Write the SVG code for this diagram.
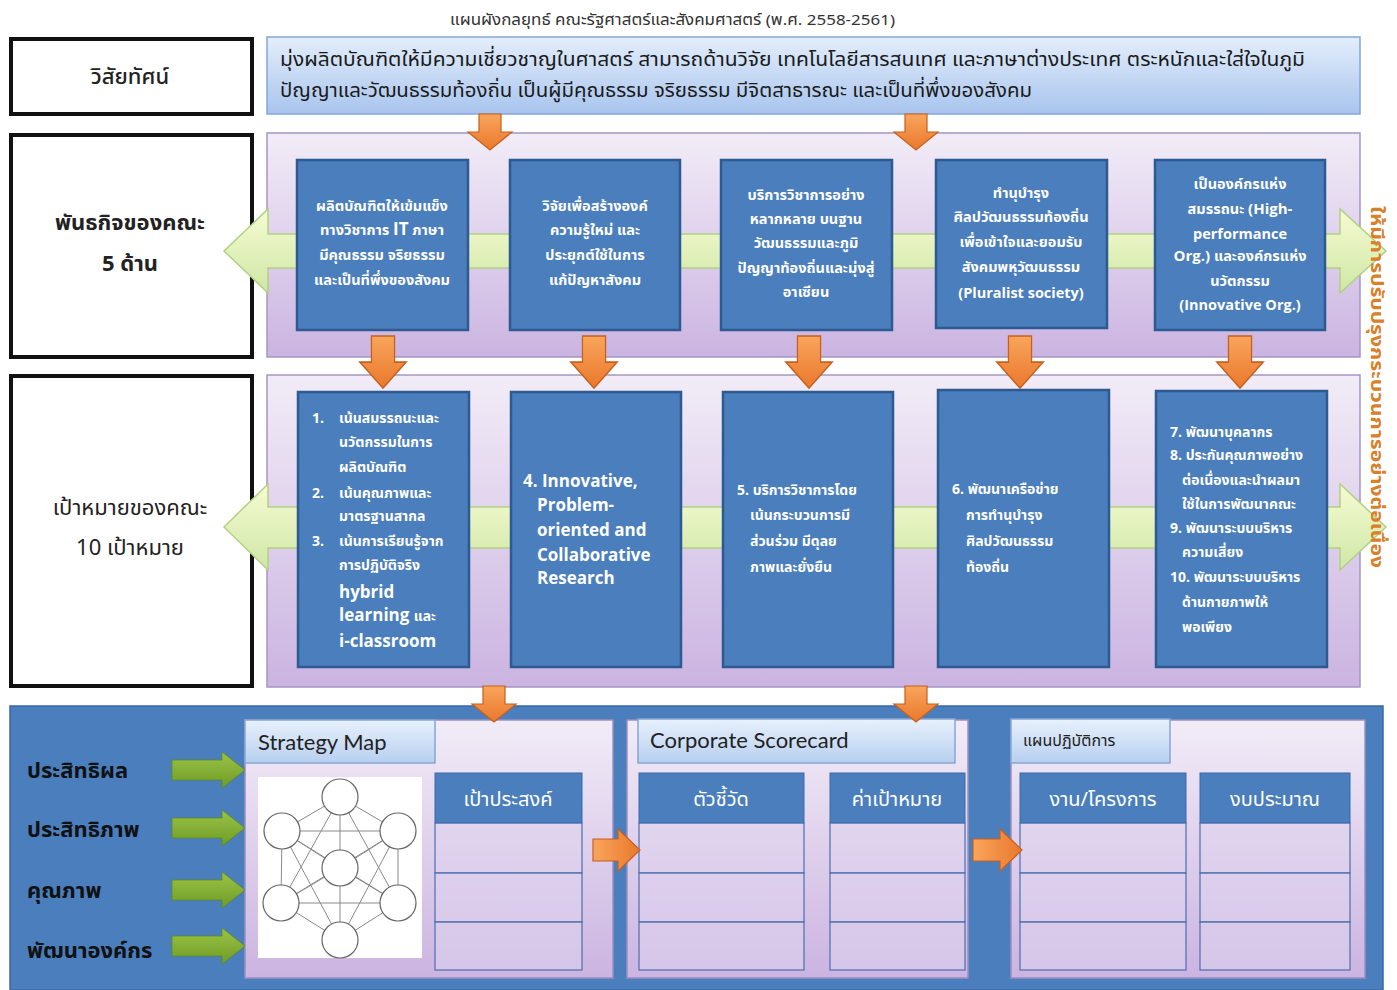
<svg xmlns="http://www.w3.org/2000/svg" width="1397" height="990" viewBox="0 0 1397 990">
<defs>
<linearGradient id="gVision" x1="0" y1="0" x2="0" y2="1"><stop offset="0" stop-color="#e4eefb"/><stop offset="1" stop-color="#a8c4ee"/></linearGradient>
<linearGradient id="gPurple" x1="0" y1="0" x2="0" y2="1"><stop offset="0" stop-color="#f2ecf7"/><stop offset="1" stop-color="#cbb4e1"/></linearGradient>
<linearGradient id="gGreen" x1="0" y1="0" x2="0" y2="1"><stop offset="0" stop-color="#f6fbd2"/><stop offset="1" stop-color="#cfe7a6"/></linearGradient>
<linearGradient id="gOrange" x1="0" y1="0" x2="0" y2="1"><stop offset="0" stop-color="#f9a55c"/><stop offset="1" stop-color="#e9782c"/></linearGradient>
<linearGradient id="gOrangeH" x1="0" y1="0" x2="1" y2="0"><stop offset="0" stop-color="#f9a55c"/><stop offset="1" stop-color="#e9782c"/></linearGradient>
<linearGradient id="gTab" x1="0" y1="0" x2="0" y2="1"><stop offset="0" stop-color="#e8f1fc"/><stop offset="1" stop-color="#b7cff0"/></linearGradient>
<linearGradient id="gArrowG" x1="0" y1="0" x2="0" y2="1"><stop offset="0" stop-color="#9cc348"/><stop offset="1" stop-color="#6e9c24"/></linearGradient>
<path id="darr" d="M-11,0 H11 V18 H22 L0,36 L-22,18 H-11 Z"/>
<path id="garr" d="M0,-10 H50 V-18 L73,0 L50,18 V10 H0 Z"/>
</defs>
<style>
.th{font-family:"Noto Sans Thai","Noto Sans","DejaVu Sans","Liberation Sans",sans-serif}
.en{font-family:"Open Sans","Liberation Sans",sans-serif}
.lab{fill:#fff;stroke:#111;stroke-width:4}
.labt{font-size:22px;fill:#222;text-anchor:middle}
.panel{fill:url(#gPurple);stroke:#a596c2;stroke-width:1.5}
.bbox{fill:#4a7ebd;stroke:#2c5a91;stroke-width:2.5}
.mt{font-size:14.5px;fill:#fff;text-anchor:middle;font-weight:bold}
.gt{font-size:14px;fill:#fff;font-weight:bold}
.ge{font-size:17px;fill:#fff;font-weight:bold}
.oarr{fill:url(#gOrange);stroke:#c6601c;stroke-width:1.2}
.oarrh{fill:url(#gOrangeH);stroke:#c6601c;stroke-width:1.2}
.garrow{fill:url(#gGreen);stroke:#b2d184;stroke-width:1.5}
.sub{fill:url(#gPurple);stroke:#9c8fc0;stroke-width:1.5}
.tab{fill:url(#gTab);stroke:#86a6d2;stroke-width:1.5}
.colh{fill:#4a7ebd;stroke:#3b69a8;stroke-width:1}
.cell{fill:#ded3ee;fill-opacity:0.55;stroke:#4c6fae;stroke-width:1.2}
.colt{font-size:20px;fill:#fff;text-anchor:middle}
.tabt{font-size:22px;fill:#222}
.blab{font-size:22px;fill:#111;font-weight:bold}
.ga{fill:url(#gArrowG);stroke:#5e8a1e;stroke-width:0.8}
.net{stroke:#8a8a8a;stroke-width:1;fill:none}
.nd{fill:#fff;stroke:#666;stroke-width:1.2}
</style>

<rect width="1397" height="990" fill="#ffffff"/>

<text class="th" x="450" y="25" font-size="15" fill="#333" textLength="445" lengthAdjust="spacingAndGlyphs">แผนผังกลยุทธ์ คณะรัฐศาสตร์และสังคมศาสตร์ (พ.ศ. 2558-2561)</text>

<!-- Left label boxes -->
<g id="label-vision"><rect class="lab" x="11" y="39" width="241" height="75"/><text class="th labt" x="130" y="84" font-size="25" font-weight="500">วิสัยทัศน์</text></g>
<g id="label-mission"><rect class="lab" x="11" y="135" width="241" height="222"/><text class="th labt" x="130" y="230" font-weight="bold">พันธกิจของคณะ</text><text class="th labt" x="130" y="271" font-weight="bold">5 ด้าน</text></g>
<g id="label-goals"><rect class="lab" x="11" y="376" width="241" height="310"/><text class="th labt" x="130" y="515">เป้าหมายของคณะ</text><text class="th labt" x="130" y="555">10 เป้าหมาย</text></g>

<!-- Vision -->
<g id="vision">
<rect x="267" y="37" width="1093" height="77" fill="url(#gVision)" stroke="#84a6d6" stroke-width="1.5"/>
<text class="th" x="280" y="66" font-size="20" fill="#1a1a1a" textLength="1025" lengthAdjust="spacingAndGlyphs">มุ่งผลิตบัณฑิตให้มีความเชี่ยวชาญในศาสตร์ สามารถด้านวิจัย เทคโนโลยีสารสนเทศ และภาษาต่างประเทศ ตระหนักและใส่ใจในภูมิ</text>
<text class="th" x="280" y="97" font-size="20" fill="#1a1a1a" textLength="752" lengthAdjust="spacingAndGlyphs">ปัญญาและวัฒนธรรมท้องถิ่น เป็นผู้มีคุณธรรม จริยธรรม มีจิตสาธารณะ และเป็นที่พึ่งของสังคม</text>
</g>

<!-- Mission panel -->
<g id="mission-panel">
<rect class="panel" x="267" y="133" width="1093" height="224"/>
</g>
<!-- Goals panel -->
<g id="goals-panel">
<rect class="panel" x="267" y="375" width="1093" height="312"/>
</g>

<g id="connectors">
<path class="garrow" d="M268,234 H1340 V209 L1386,251 L1340,293 V268 H268 V293 L224,251 L268,209 Z"/>
<path class="garrow" d="M268,507 H1340 V484 L1386,527 L1340,570 V548 H268 V570 L224,527 L268,484 Z"/>
<use href="#darr" class="oarr" transform="translate(490,114)"/>
<use href="#darr" class="oarr" transform="translate(916,114)"/>
<use href="#darr" class="oarr" transform="translate(383,336) scale(1.05,1.45)"/>
<use href="#darr" class="oarr" transform="translate(594,336) scale(1.05,1.45)"/>
<use href="#darr" class="oarr" transform="translate(809,336) scale(1.05,1.45)"/>
<use href="#darr" class="oarr" transform="translate(1020,336) scale(1.05,1.45)"/>
<use href="#darr" class="oarr" transform="translate(1240,336) scale(1.05,1.45)"/>
</g>

<!-- Mission boxes -->
<g id="m1"><rect class="bbox" x="297" y="160" width="171" height="170"/>
<text class="th mt" x="382" y="211">ผลิตบัณฑิตให้เข้มแข็ง</text><text class="th mt" x="382" y="235">ทางวิชาการ <tspan class="en" font-size="17">IT</tspan> ภาษา</text><text class="th mt" x="382" y="260">มีคุณธรรม จริยธรรม</text><text class="th mt" x="382" y="285">และเป็นที่พึ่งของสังคม</text></g>
<g id="m2"><rect class="bbox" x="510" y="160" width="170" height="170"/>
<text class="th mt" x="595" y="211">วิจัยเพื่อสร้างองค์</text><text class="th mt" x="595" y="235">ความรู้ใหม่ และ</text><text class="th mt" x="595" y="260">ประยุกต์ใช้ในการ</text><text class="th mt" x="595" y="285">แก้ปัญหาสังคม</text></g>
<g id="m3"><rect class="bbox" x="721" y="160" width="171" height="170"/>
<text class="th mt" x="806" y="200">บริการวิชาการอย่าง</text><text class="th mt" x="806" y="224">หลากหลาย บนฐาน</text><text class="th mt" x="806" y="248">วัฒนธรรมและภูมิ</text><text class="th mt" x="806" y="273">ปัญญาท้องถิ่นและมุ่งสู่</text><text class="th mt" x="806" y="297">อาเซียน</text></g>
<g id="m4"><rect class="bbox" x="936" y="160" width="171" height="168"/>
<text class="th mt" x="1021" y="198">ทำนุบำรุง</text><text class="th mt" x="1021" y="222">ศิลปวัฒนธรรมท้องถิ่น</text><text class="th mt" x="1021" y="247">เพื่อเข้าใจและยอมรับ</text><text class="th mt" x="1021" y="272">สังคมพหุวัฒนธรรม</text><text class="en mt" x="1021" y="298" font-size="15">(Pluralist  society)</text></g>
<g id="m5"><rect class="bbox" x="1155" y="160" width="170" height="170"/>
<text class="th mt" x="1240" y="189">เป็นองค์กรแห่ง</text><text class="th mt" x="1240" y="214">สมรรถนะ <tspan class="en" font-size="15">(High-</tspan></text><text class="en mt" x="1240" y="239" font-size="15">performance</text><text class="th mt" x="1240" y="261"><tspan class="en" font-size="15">Org.)</tspan> และองค์กรแห่ง</text><text class="th mt" x="1240" y="286">นวัตกรรม</text><text class="en mt" x="1240" y="310" font-size="15">(Innovative  Org.)</text></g>

<!-- Goal boxes -->
<g id="g1"><rect class="bbox" x="298" y="392" width="171" height="275"/>
<text class="en gt" x="312" y="423" font-size="15">1.</text><text class="th gt" x="339" y="423">เน้นสมรรถนะและ</text>
<text class="th gt" x="339" y="447">นวัตกรรมในการ</text><text class="th gt" x="339" y="472">ผลิตบัณฑิต</text>
<text class="en gt" x="312" y="498" font-size="15">2.</text><text class="th gt" x="339" y="498">เน้นคุณภาพและ</text>
<text class="th gt" x="339" y="521">มาตรฐานสากล</text>
<text class="en gt" x="312" y="546" font-size="15">3.</text><text class="th gt" x="339" y="546">เน้นการเรียนรู้จาก</text>
<text class="th gt" x="339" y="570">การปฏิบัติจริง</text>
<text class="en ge" x="339" y="598">hybrid</text>
<text class="en ge" x="339" y="621">learning <tspan class="th" font-size="14">และ</tspan></text>
<text class="en ge" x="339" y="647">i-classroom</text></g>
<g id="g2"><rect class="bbox" x="511" y="392" width="170" height="275"/>
<text class="en ge" x="523" y="487">4. Innovative,</text><text class="en ge" x="537" y="511">Problem-</text><text class="en ge" x="537" y="536">oriented and</text><text class="en ge" x="537" y="561">Collaborative</text><text class="en ge" x="537" y="584">Research</text></g>
<g id="g3"><rect class="bbox" x="723" y="392" width="170" height="275"/>
<text class="th gt" x="737" y="495" font-size="15.5" font-weight="normal">5. บริการวิชาการโดย</text><text class="th gt" x="750" y="520" font-size="15.5" font-weight="normal">เน้นกระบวนการมี</text><text class="th gt" x="750" y="546" font-size="15.5" font-weight="normal">ส่วนร่วม มีดุลย</text><text class="th gt" x="750" y="572" font-size="15.5" font-weight="normal">ภาพและยั่งยืน</text></g>
<g id="g4"><rect class="bbox" x="938" y="390" width="171" height="277"/>
<text class="th gt" x="952" y="494" font-size="15.5" font-weight="normal">6. พัฒนาเครือข่าย</text><text class="th gt" x="966" y="520" font-size="15.5" font-weight="normal">การทำนุบำรุง</text><text class="th gt" x="966" y="546" font-size="15.5" font-weight="normal">ศิลปวัฒนธรรม</text><text class="th gt" x="966" y="572" font-size="15.5" font-weight="normal">ท้องถิ่น</text></g>
<g id="g5"><rect class="bbox" x="1156" y="391" width="171" height="276"/>
<text class="th gt" x="1170" y="437" font-size="13.5">7. พัฒนาบุคลากร</text>
<text class="th gt" x="1170" y="460" font-size="13.5">8. ประกันคุณภาพอย่าง</text>
<text class="th gt" x="1182" y="485" font-size="13.5">ต่อเนื่องและนำผลมา</text>
<text class="th gt" x="1182" y="509" font-size="13.5">ใช้ในการพัฒนาคณะ</text>
<text class="th gt" x="1170" y="533" font-size="13.5">9. พัฒนาระบบบริหาร</text>
<text class="th gt" x="1182" y="557" font-size="13.5">ความเสี่ยง</text>
<text class="th gt" x="1170" y="582" font-size="13.5">10. พัฒนาระบบบริหาร</text>
<text class="th gt" x="1182" y="607" font-size="13.5">ด้านกายภาพให้</text>
<text class="th gt" x="1182" y="632" font-size="13.5">พอเพียง</text></g>

<!-- vertical text -->
<text class="th" transform="translate(1371,206) rotate(90)" font-size="17" fill="#d9802a" font-weight="bold" textLength="362" lengthAdjust="spacingAndGlyphs">ให้มีการปรับปรุงกระบวนการอย่างต่อเนื่อง</text>

<!-- Bottom section -->
<g id="bottom-panel">
<rect x="10" y="706" width="1373" height="284" fill="#4a7ebd" stroke="#3a68a4" stroke-width="1.5"/>
</g>
<g id="perspectives">
<text class="th blab" x="27" y="778">ประสิทธิผล</text>
<text class="th blab" x="27" y="837">ประสิทธิภาพ</text>
<text class="th blab" x="27" y="898">คุณภาพ</text>
<text class="th blab" x="27" y="958">พัฒนาองค์กร</text>
</g>

<g id="strategy-map">
<rect class="sub" x="245" y="720" width="368" height="258"/>
<rect class="tab" x="245" y="720" width="190" height="43"/>
<text class="tabt" x="258" y="750" font-family="Lato, 'Open Sans', sans-serif">Strategy Map</text>
<rect x="258" y="777" width="164" height="181" fill="#fff"/>
<g class="net">
<path d="M340,797 L282,831 M340,797 L398,831 M340,797 L340,940 M340,797 L281,903 M340,797 L398,903 M282,831 L398,831 M282,831 L281,903 M282,831 L340,868 M282,831 L398,903 M282,831 L340,940 M398,831 L398,903 M398,831 L340,868 M398,831 L281,903 M398,831 L340,940 M281,903 L398,903 M281,903 L340,868 M281,903 L340,940 M398,903 L340,940 M398,903 L340,868"/>
</g>
<circle class="nd" cx="340" cy="797" r="18"/><circle class="nd" cx="282" cy="831" r="18"/><circle class="nd" cx="398" cy="831" r="18"/><circle class="nd" cx="340" cy="868" r="18"/><circle class="nd" cx="281" cy="903" r="18"/><circle class="nd" cx="398" cy="903" r="18"/><circle class="nd" cx="340" cy="940" r="18"/>
<rect class="colh" x="435" y="773" width="147" height="50"/>
<text class="th colt" x="508" y="806">เป้าประสงค์</text>
<rect class="cell" x="435" y="823" width="147" height="50"/><rect class="cell" x="435" y="873" width="147" height="49"/><rect class="cell" x="435" y="922" width="147" height="48"/>
</g>

<g id="scorecard">
<rect class="sub" x="627" y="720" width="341" height="258"/>
<rect class="tab" x="638" y="719" width="317" height="44"/>
<text class="tabt" x="650" y="748" font-family="Lato, 'Open Sans', sans-serif">Corporate Scorecard</text>
<rect class="colh" x="639" y="773" width="165" height="50"/>
<text class="th colt" x="721" y="806">ตัวชี้วัด</text>
<rect class="cell" x="639" y="823" width="165" height="50"/><rect class="cell" x="639" y="873" width="165" height="49"/><rect class="cell" x="639" y="922" width="165" height="48"/>
<rect class="colh" x="830" y="773" width="135" height="50"/>
<text class="th colt" x="897" y="806">ค่าเป้าหมาย</text>
<rect class="cell" x="830" y="823" width="135" height="50"/><rect class="cell" x="830" y="873" width="135" height="49"/><rect class="cell" x="830" y="922" width="135" height="48"/>
</g>

<g id="action-plan">
<rect class="sub" x="1011" y="720" width="354" height="258"/>
<rect class="tab" x="1011" y="719" width="159" height="44"/>
<text class="th" x="1023" y="746" font-size="16" fill="#222">แผนปฏิบัติการ</text>
<rect class="colh" x="1020" y="773" width="166" height="50"/>
<text class="th colt" x="1103" y="806">งาน/โครงการ</text>
<rect class="cell" x="1020" y="823" width="166" height="50"/><rect class="cell" x="1020" y="873" width="166" height="49"/><rect class="cell" x="1020" y="922" width="166" height="48"/>
<rect class="colh" x="1200" y="773" width="150" height="50"/>
<text class="th colt" x="1275" y="806">งบประมาณ</text>
<rect class="cell" x="1200" y="823" width="150" height="50"/><rect class="cell" x="1200" y="873" width="150" height="49"/><rect class="cell" x="1200" y="922" width="150" height="48"/>
</g>

<g id="bottom-connectors">
<use href="#garr" class="ga" transform="translate(172,770)"/>
<use href="#garr" class="ga" transform="translate(172,828)"/>
<use href="#garr" class="ga" transform="translate(172,890)"/>
<use href="#garr" class="ga" transform="translate(172,946)"/>
<use href="#darr" class="oarr" transform="translate(494,686)"/>
<use href="#darr" class="oarr" transform="translate(916,686)"/>
<path class="oarrh" d="M593,839 H618 V829 L640,850 L618,871 V861 H593 Z"/>
<path class="oarrh" d="M973,839 H1000 V829 L1022,850 L1000,871 V861 H973 Z"/>
</g>
</svg>
